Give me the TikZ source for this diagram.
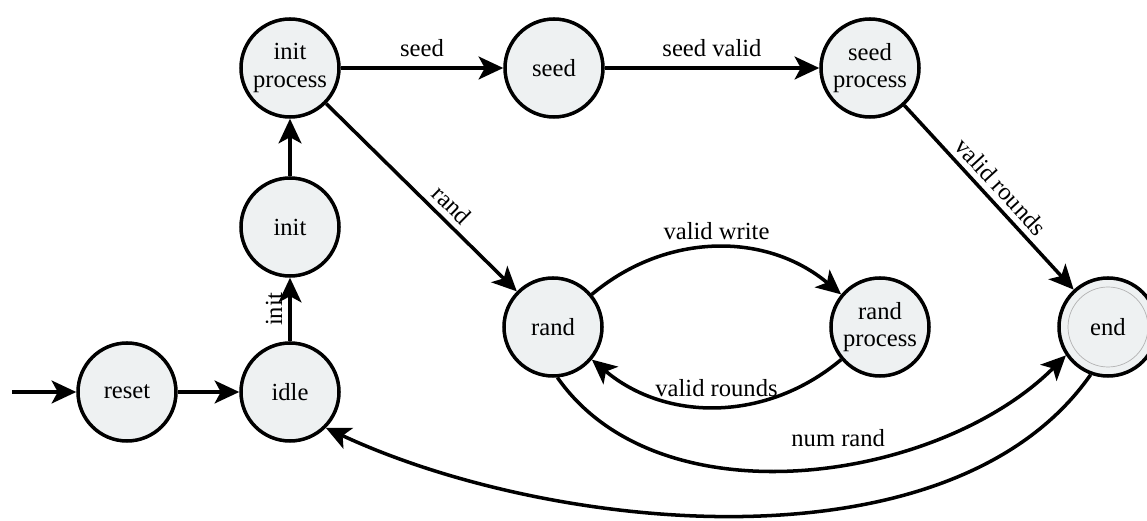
\documentclass[tikz,border=0pt]{standalone}
\usepackage{fontspec}
\setmainfont{Liberation Serif}
\usetikzlibrary{arrows.meta,positioning}
\definecolor{statefill}{RGB}{238,241,242}

\begin{document}
\begin{tikzpicture}[
    state/.style={circle, draw, line width=2pt, fill=statefill, minimum size=1.96cm, inner sep=0pt, align=center, font=\fontsize{14}{15.5}\selectfont},
    accepting/.style={path picture={\draw[gray!60, line width=0.4pt] (path picture bounding box.center) circle (0.8cm);}},
    trans/.style={line width=2pt, -{Stealth[length=14pt,width=13pt,inset=3.5pt]}},
    lbl/.style={font=\fontsize{14}{15.5}\selectfont}
]
\useasboundingbox (0,0) rectangle (22.94,10.42);

\coordinate (start) at (0.24,2.58);
\node[state] (reset) at (2.54,2.58) {reset};
\node[state] (idle) at (5.8,2.58) {idle};
\node[state] (init) at (5.8,5.88) {init};
\node[state] (initproc) at (5.8,9.06) {init\\process};
\node[state] (seed) at (11.08,9.06) {seed};
\node[state] (seedproc) at (17.4,9.06) {seed\\process};
\node[state] (rand) at (11.06,3.88) {rand};
\node[state] (randproc) at (17.6,3.88) {rand\\process};
\node[state, accepting] (end) at (22.16,3.88) {end};

\draw[trans] (start) -- (reset);
\draw[trans] (reset) -- (idle);
\draw[trans] (idle) -- node[midway,above,sloped,lbl] {init} (init);
\draw[trans] (init) -- (initproc);
\draw[trans] (initproc) -- node[midway,above=2pt,lbl] {seed} (seed);
\draw[trans] (seed) -- node[midway,above=2pt,lbl] {seed valid} (seedproc);
\draw[trans] (seedproc) -- node[midway,above,sloped,lbl] {valid rounds} (end);
\draw[trans] (initproc) -- node[pos=0.6,above,sloped,lbl] {rand} (rand);
\draw[trans] (rand) to[bend left=40] node[midway,above,lbl] {valid write} (randproc);
\draw[trans] (randproc) to[bend left=40] node[midway,above=1pt,lbl] {valid rounds} (rand);
\draw[trans] (rand.-85) to[out=-55, in=-135, looseness=0.9] node[pos=0.56,above=6pt,lbl] {num rand} (end.-146);
\draw[trans] (end.-110) to[out=-125, in=-25, looseness=0.82] (idle.-45);
\end{tikzpicture}
\end{document}
